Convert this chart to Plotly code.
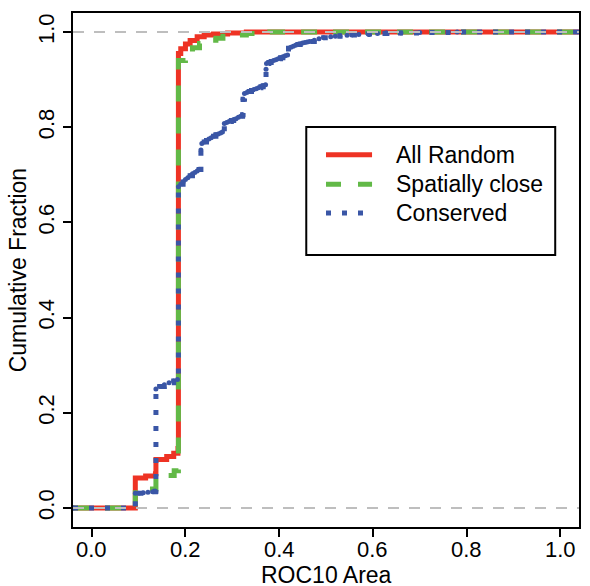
import plotly.graph_objects as go

# Empirical CDF step points (x = ROC10 area, y = cumulative fraction)
random_x = [-0.04, 0.093, 0.115, 0.136, 0.137, 0.160, 0.175, 0.184, 0.185, 0.190, 0.200,
            0.210, 0.225, 0.240, 0.260, 0.290, 0.330, 1.04]
random_y = [0.0, 0.063, 0.067, 0.072, 0.102, 0.108, 0.115, 0.125, 0.955, 0.965, 0.975,
            0.982, 0.990, 0.994, 0.996, 0.998, 1.0, 1.0]

close_x = [-0.04, 0.093, 0.137, 0.176, 0.185, 0.200, 0.215, 0.230, 0.250, 0.265, 0.280,
           0.300, 0.330, 0.380, 1.04]
close_y = [0.0, 0.040, 0.068, 0.078, 0.940, 0.955, 0.967, 0.976, 0.983, 0.987, 0.991,
           0.994, 0.997, 1.0, 1.0]

conserved_x = [-0.04, 0.093, 0.100, 0.110, 0.120, 0.130, 0.136,
               0.137, 0.145, 0.155, 0.165, 0.175, 0.183,
               0.185, 0.190, 0.195, 0.200, 0.205, 0.210, 0.215, 0.220, 0.225, 0.229,
               0.233,
               0.235, 0.240, 0.245, 0.250, 0.255, 0.260, 0.265, 0.270, 0.275, 0.279,
               0.283, 0.288, 0.293, 0.298, 0.303, 0.308, 0.313, 0.318, 0.322,
               0.323,
               0.326, 0.331, 0.336, 0.341, 0.346, 0.351, 0.356, 0.361, 0.366, 0.371,
               0.372,
               0.373, 0.378, 0.383, 0.388, 0.393, 0.398, 0.403, 0.408, 0.413, 0.418,
               0.420, 0.425, 0.430, 0.435, 0.440, 0.445, 0.450, 0.455, 0.460, 0.465,
               0.475, 0.485, 0.495, 0.510, 0.520, 0.530, 0.545, 0.555, 0.570, 0.590,
               0.610, 0.630, 0.660, 0.700, 0.780, 1.04]
conserved_y = [0.0, 0.031, 0.031, 0.032, 0.033, 0.034, 0.035,
               0.250, 0.255, 0.259, 0.263, 0.267, 0.270,
               0.675, 0.680, 0.685, 0.690, 0.694, 0.698, 0.702, 0.705, 0.708, 0.711,
               0.752,
               0.766, 0.769, 0.772, 0.775, 0.778, 0.781, 0.784, 0.786, 0.788, 0.790,
               0.808, 0.810, 0.812, 0.814, 0.816, 0.818, 0.821, 0.823, 0.826,
               0.859,
               0.871, 0.873, 0.875, 0.877, 0.879, 0.881, 0.883, 0.885, 0.887, 0.889,
               0.922,
               0.934, 0.936, 0.938, 0.940, 0.942, 0.944, 0.946, 0.948, 0.950, 0.952,
               0.966, 0.968, 0.970, 0.972, 0.974, 0.975, 0.977, 0.978, 0.979, 0.980,
               0.983, 0.986, 0.988, 0.990, 0.991, 0.992, 0.993, 0.994, 0.995, 0.996,
               0.997, 0.998, 0.998, 0.999, 1.0, 1.0]

tick_vals = [0.0, 0.2, 0.4, 0.6, 0.8, 1.0]
tick_text = ["0.0", "0.2", "0.4", "0.6", "0.8", "1.0"]
ref_levels = [0.0, 1.0]

series_names = ["All Random", "Spatially close", "Conserved"]
RED, GREEN, BLUE, GRAY = "#EE3324", "#62B947", "#3A56A6", "#BEBEBE"
FONT = "Liberation Sans, Arial, Helvetica, sans-serif"

fig = go.Figure()
fig.add_trace(go.Scatter(x=random_x, y=random_y, mode="lines", line_shape="hv",
                         line=dict(color=RED, width=5), name=series_names[0]))
fig.add_trace(go.Scatter(x=close_x, y=close_y, mode="lines", line_shape="hv",
                         line=dict(color=GREEN, width=5, dash="16px,16px"),
                         name=series_names[1]))
fig.add_trace(go.Scatter(x=conserved_x, y=conserved_y, mode="lines+markers", line_shape="hv",
                         line=dict(color=BLUE, width=5, dash="5px,11px"),
                         marker=dict(color=BLUE, size=5),
                         name=series_names[2]))

shapes = []
# grey dashed reference lines at 0 and 1
for lvl in ref_levels:
    shapes.append(dict(type="line", xref="paper", yref="y", x0=0, x1=1, y0=lvl, y1=lvl,
                       line=dict(color=GRAY, width=2, dash="11px,10px"), layer="above"))

# legend box
shapes.append(dict(type="rect", xref="paper", yref="paper", x0=0.461, x1=0.953,
                   y0=0.529, y1=0.778, line=dict(color="black", width=2),
                   fillcolor="white", layer="above"))
legend_rows = [0.724, 0.667, 0.611]
legend_styles = [dict(color=RED, width=5),
                 dict(color=GREEN, width=5, dash="15px,17px"),
                 dict(color=BLUE, width=5, dash="5px,11px")]
annotations = []
for row, style, name in zip(legend_rows, legend_styles, series_names):
    shapes.append(dict(type="line", xref="paper", yref="paper", x0=0.500, x1=0.591,
                       y0=row, y1=row, line=style, layer="above"))
    annotations.append(dict(x=0.634, y=row, xref="paper", yref="paper", text=name,
                            showarrow=False, xanchor="left", yanchor="middle",
                            font=dict(family=FONT, size=23, color="black")))

# x tick labels, set a little closer to the axis than the default placement
for val, txt in zip(tick_vals, tick_text):
    annotations.append(dict(x=val, y=-0.0447, xref="x", yref="paper", text=txt,
                            showarrow=False, xanchor="center", yanchor="middle",
                            font=dict(family=FONT, size=22, color="black")))

annotations.append(dict(x=0.5, y=-0.0934, xref="paper", yref="paper", text="ROC10 Area",
                        showarrow=False, xanchor="center", yanchor="middle",
                        font=dict(family=FONT, size=23, color="black")))
annotations.append(dict(x=-0.108, y=0.5, xref="paper", yref="paper",
                        text="Cumulative Fraction", textangle=-90,
                        showarrow=False, xanchor="center", yanchor="middle",
                        font=dict(family=FONT, size=23, color="black")))

axis_common = dict(range=[-0.04, 1.04], tickvals=tick_vals,
                   showgrid=False, zeroline=False, showline=True, linecolor="black",
                   linewidth=2, mirror=True, ticks="outside", ticklen=8, tickwidth=2,
                   tickcolor="black", tickfont=dict(family=FONT, size=22, color="black"))

fig.update_layout(
    width=590, height=586,
    margin=dict(l=73, r=9, t=13, b=59, pad=0),
    paper_bgcolor="white", plot_bgcolor="white",
    showlegend=False,
    xaxis=dict(**axis_common, showticklabels=False),
    yaxis=dict(**axis_common, ticktext=tick_text, tickangle=-90),
    shapes=shapes, annotations=annotations,
)

fig.write_html("out.html")
